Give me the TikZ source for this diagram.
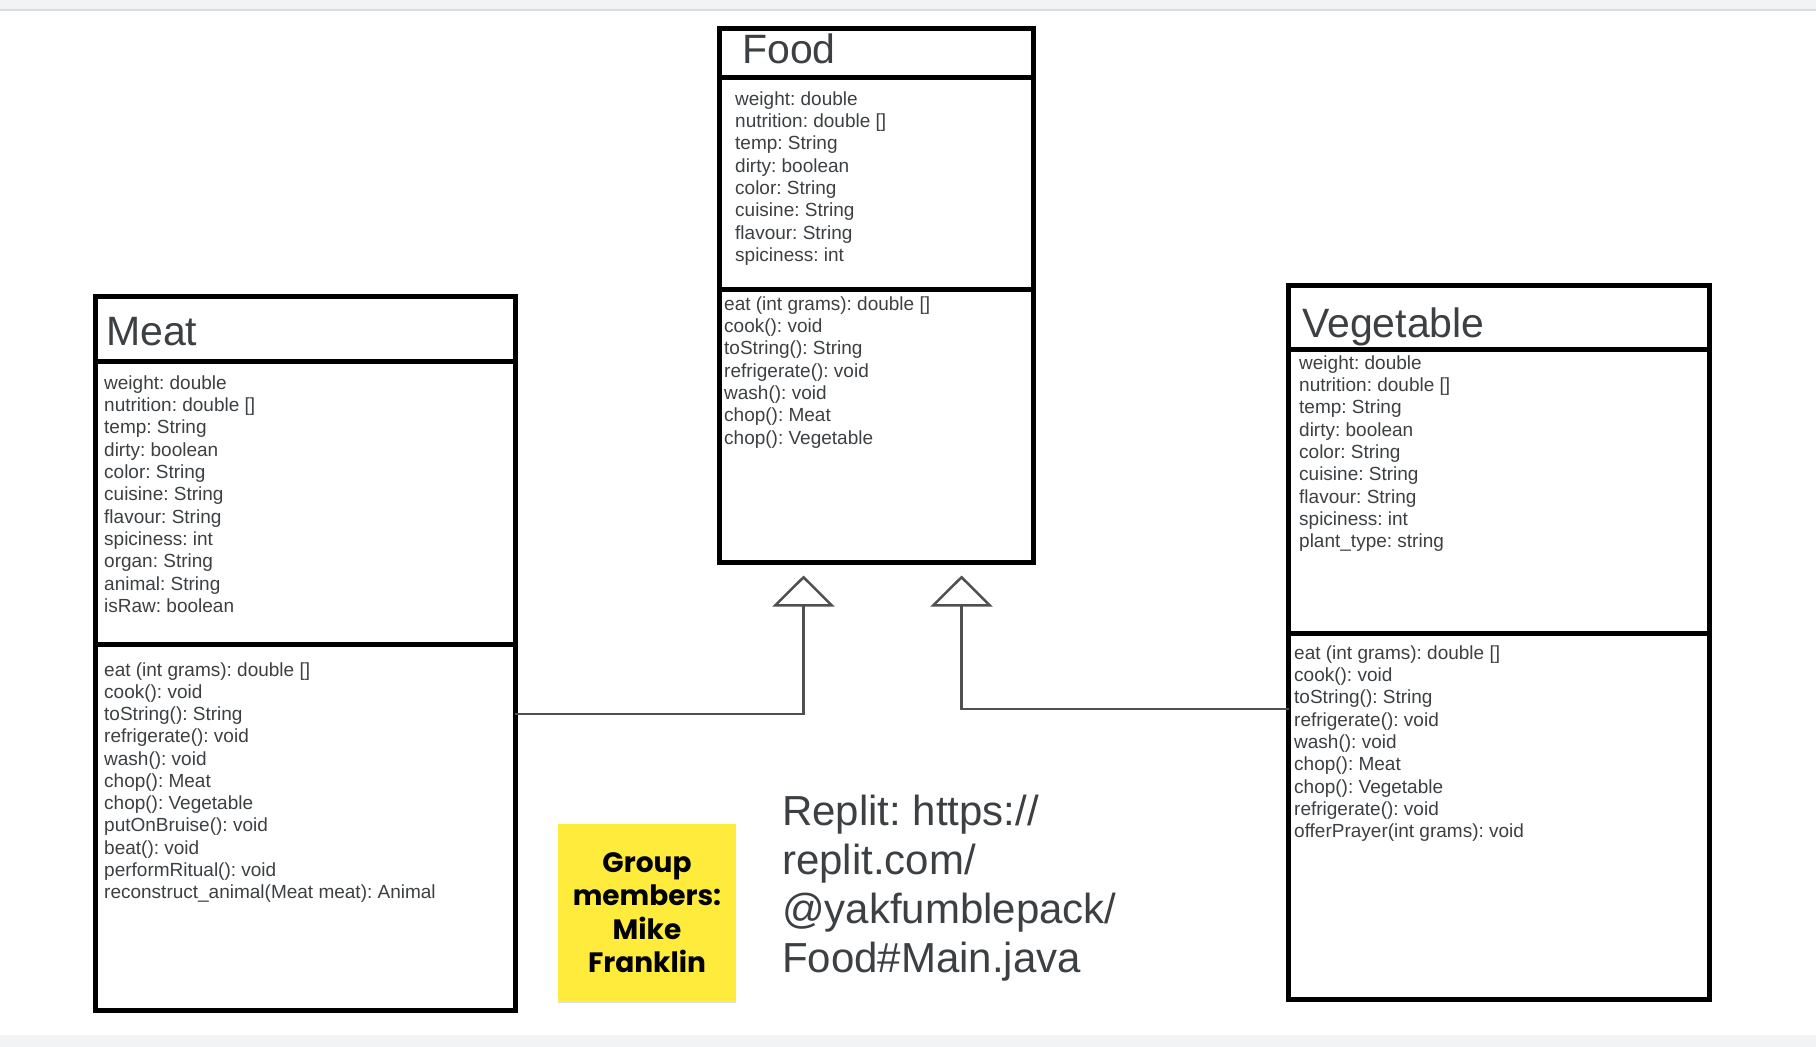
\documentclass[tikz,border=0pt]{standalone}
\usepackage{fontspec}
\setmainfont{Liberation Sans}
\newfontfamily\notefont{Poppins}
\usetikzlibrary{arrows.meta,positioning,shadows}
\frenchspacing

\definecolor{ink}{HTML}{3C4043}
\definecolor{sticky}{HTML}{FFEB3B}
\definecolor{bandgray}{HTML}{F1F3F4}
\definecolor{bandline}{HTML}{DADCE0}
\definecolor{linkgray}{HTML}{505050}

\tikzset{
  classbox/.style={draw=black, line width=5pt, fill=white, rectangle,
    inner sep=0pt, outer sep=0pt, anchor=north west},
  classline/.style={draw=black, line width=5pt},
  classname/.style={anchor=base west, inner sep=0pt, text=ink,
    font=\fontsize{41pt}{48pt}\selectfont},
  member/.style={anchor=base west, inner sep=0pt, text=ink,
    font=\fontsize{19pt}{22pt}\selectfont},
  inherit/.style={draw=linkgray, line width=2.5pt,
    -{Triangle[open, length=31pt, width=62pt, line width=2.5pt]}},
}

\begin{document}
\begin{tikzpicture}[x=1pt, y=-1pt]
  \useasboundingbox (0,0) rectangle (1816,1047);
  \fill[white] (0,0) rectangle (1816,1047);
  \fill[bandgray] (0,0) rectangle (1816,9);
  \draw[bandline, line width=2pt] (0,10) -- (1816,10);
  \fill[bandgray] (0,1035) rectangle (1816,1047);

  % classes
  \node[classbox, minimum width=314pt, minimum height=534pt] (food) at (719.5,28.5) {};
  \draw[classline] (food.west |- 0,77.5) -- (food.east |- 0,77.5);
  \draw[classline] (food.west |- 0,289) -- (food.east |- 0,289);
  \node[classname] (foodname) at (742,63) {Food};

  \node[classbox, minimum width=420pt, minimum height=714pt] (meat) at (95,296) {};
  \draw[classline] (meat.west |- 0,361.5) -- (meat.east |- 0,361.5);
  \draw[classline] (meat.west |- 0,644) -- (meat.east |- 0,644);
  \node[classname] (meatname) at (106,345) {Meat};

  \node[classbox, minimum width=421pt, minimum height=714pt] (veg) at (1288.5,285) {};
  \draw[classline] (veg.west |- 0,349) -- (veg.east |- 0,349);
  \draw[classline] (veg.west |- 0,633) -- (veg.east |- 0,633);
  \node[classname] (vegname) at (1302,337) {Vegetable};

  % attributes and methods
  \foreach \txt [count=\i from 0] in {weight: double, nutrition: double [],
      temp: String, dirty: boolean, color: String, cuisine: String,
      flavour: String, spiciness: int}
    \node[member] (foodattr\i) at (735,{105+22.35*\i}) {\txt};
  \foreach \txt [count=\i from 0] in {eat (int grams): double [], cook(): void,
      toString(): String, refrigerate(): void, wash(): void, chop(): Meat,
      chop(): Vegetable}
    \node[member] (foodop\i) at (724,{310+22.35*\i}) {\txt};

  \foreach \txt [count=\i from 0] in {weight: double, nutrition: double [],
      temp: String, dirty: boolean, color: String, cuisine: String,
      flavour: String, spiciness: int, organ: String, animal: String,
      isRaw: boolean}
    \node[member] (meatattr\i) at (104,{389+22.35*\i}) {\txt};
  \foreach \txt [count=\i from 0] in {eat (int grams): double [], cook(): void,
      toString(): String, refrigerate(): void, wash(): void, chop(): Meat,
      chop(): Vegetable, putOnBruise(): void, beat(): void,
      performRitual(): void, reconstruct\_animal(Meat meat): Animal}
    \node[member] (meatop\i) at (104,{676+22.25*\i}) {\txt};

  \foreach \txt [count=\i from 0] in {weight: double, nutrition: double [],
      temp: String, dirty: boolean, color: String, cuisine: String,
      flavour: String, spiciness: int, plant\_type: string}
    \node[member] (vegattr\i) at (1299,{369+22.35*\i}) {\txt};
  \foreach \txt [count=\i from 0] in {eat (int grams): double [], cook(): void,
      toString(): String, refrigerate(): void, wash(): void, chop(): Meat,
      chop(): Vegetable, refrigerate(): void, offerPrayer(int grams): void}
    \node[member] (vegop\i) at (1294,{659+22.35*\i}) {\txt};

  % inheritance
  \coordinate[below left=13pt and 73pt of food.south] (foodtipL);
  \coordinate[below right=13pt and 85pt of food.south] (foodtipR);
  \draw[inherit] (meat.east |- 0,714) -| (foodtipL);
  \draw[inherit] (veg.west |- 0,709) -| (foodtipR);

  % notes
  \node[fill=sticky, minimum width=178pt, minimum height=177pt, inner sep=0pt,
    drop shadow={shadow xshift=0pt, shadow yshift=-2pt, opacity=0.25},
    align=center, font=\notefont\bfseries\fontsize{28pt}{33.5pt}\selectfont]
    (group) at (647,912.5) {Group\\members:\\Mike\\Franklin};
  \foreach \txt [count=\i from 0] in {{Replit: https://}, {replit.com/},
      {@yakfumblepack/}, {Food\#Main.java}}
    \node[anchor=base west, inner sep=0pt, text=ink,
      font=\fontsize{42pt}{49pt}\selectfont] (replit\i) at (782,{825+49.3*\i}) {\txt};
\end{tikzpicture}
\end{document}
